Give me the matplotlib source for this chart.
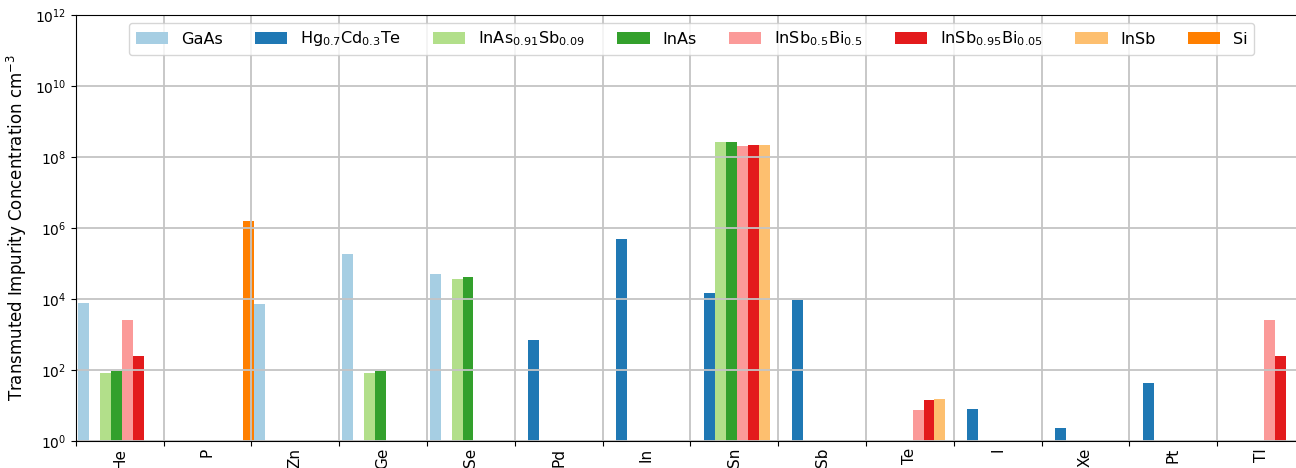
import numpy as np
import matplotlib
matplotlib.use("Agg")
import matplotlib.pyplot as plt

nan = np.nan

# elements (x categories)
elements = ['He', 'P', 'Zn', 'Ge', 'Se', 'Pd', 'In', 'Sn', 'Sb', 'Te', 'I', 'Xe', 'Pt', 'Tl']

# transmuted impurity concentration per material (cm^-3)
gaas      = [7.8e3, nan, 7.3e3, 1.8e5, 5.1e4, nan, nan, nan, nan, nan, nan, nan, nan, nan]
hgcdte    = [nan, nan, nan, nan, nan, 710, 4.8e5, 1.45e4, 9.6e3, nan, 8.0, 2.4, 42, nan]
inassb    = [85, nan, nan, 85, 3.7e4, nan, nan, 2.6e8, nan, nan, nan, nan, nan, nan]
inas      = [95, nan, nan, 95, 4.1e4, nan, nan, 2.7e8, nan, nan, nan, nan, nan, nan]
insbbi_50 = [2.5e3, nan, nan, nan, nan, nan, nan, 2.05e8, nan, 7.5, nan, nan, nan, 2.5e3]
insbbi_05 = [255, nan, nan, nan, nan, nan, nan, 2.15e8, nan, 14.4, nan, nan, nan, 255]
insb      = [nan, nan, nan, nan, nan, nan, nan, 2.15e8, nan, 15, nan, nan, nan, nan]
si        = [nan, 1.6e6, nan, nan, nan, nan, nan, nan, nan, nan, nan, nan, nan, nan]

series = [gaas, hgcdte, inassb, inas, insbbi_50, insbbi_05, insb, si]
labels = ['GaAs', r'Hg$_{0.7}$Cd$_{0.3}$Te', r'InAs$_{0.91}$Sb$_{0.09}$', 'InAs',
          r'InSb$_{0.5}$Bi$_{0.5}$', r'InSb$_{0.95}$Bi$_{0.05}$', 'InSb', 'Si']
colors = plt.get_cmap('Paired').colors[:8]

fig = plt.figure(figsize=(12.96, 4.68), dpi=100)
# axes run slightly past the right edge, like the cropped original
ax = fig.add_axes([75.7 / 1296, 27 / 468, 1232 / 1296, 426 / 468])

x = np.arange(len(elements))
w = 1 / 8
off = 0.03
for k, (vals, lab, col) in enumerate(zip(series, labels, colors)):
    ax.bar(x + off + k * w, vals, width=w, align='edge', color=col, label=lab)

ax.set_yscale('log')
ax.set_ylim(1, 1e12)
ax.set_yticks([10.0 ** p for p in range(0, 13, 2)])
ax.yaxis.set_minor_locator(matplotlib.ticker.NullLocator())
ax.set_xlim(off, len(elements) + off)

# boundaries as major ticks (grid), names as minor ticks at group centres
ax.set_xticks(np.arange(0, len(elements) + 1))
ax.set_xticklabels([])
ax.set_xticks(x + 0.5, minor=True)
ax.set_xticklabels(elements, minor=True, rotation=90, fontsize=11)
ax.tick_params(axis='x', which='minor', length=0, pad=5)
ax.tick_params(axis='y', labelsize=10)

ax.grid(True, which='major', color='#c4c4c4', linewidth=1.3)
ax.spines['right'].set_visible(False)

ax.set_ylabel(r'Transmuted Impurity Concentration cm$^{-3}$', fontsize=12)
ax.legend(loc='upper center', ncol=8, fontsize=11.6)

plt.savefig('out.png', dpi=100)
